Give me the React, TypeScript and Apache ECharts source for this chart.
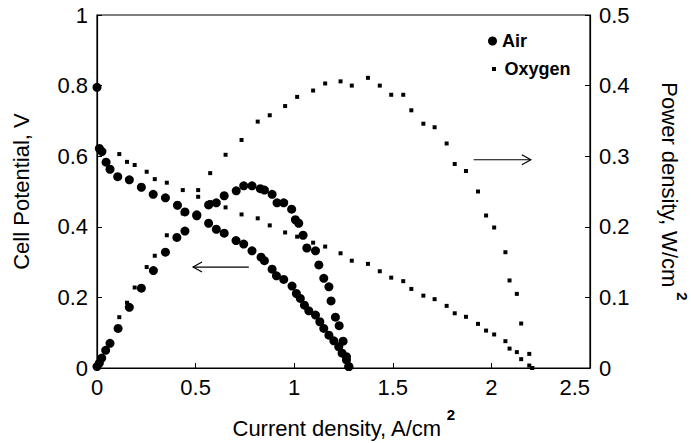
import React, { useEffect, useRef } from "react";
import * as echarts from "echarts";

// Air: cell potential (V) vs current density (A/cm2)
const airCurrentV = [0, 0.012, 0.025, 0.046, 0.066, 0.105, 0.164, 0.225, 0.285, 0.347, 0.408, 0.446, 0.506, 0.566, 0.605, 0.645, 0.705, 0.744, 0.786, 0.832, 0.849, 0.888, 0.91, 0.947, 0.989, 1.011, 1.031, 1.052, 1.074, 1.108, 1.13, 1.15, 1.176, 1.201, 1.226, 1.243, 1.265, 1.277];
const airVoltage = [0.795, 0.622, 0.613, 0.583, 0.563, 0.542, 0.533, 0.512, 0.492, 0.482, 0.461, 0.442, 0.431, 0.41, 0.393, 0.382, 0.361, 0.351, 0.332, 0.314, 0.304, 0.28, 0.261, 0.251, 0.232, 0.211, 0.197, 0.178, 0.162, 0.15, 0.131, 0.112, 0.093, 0.077, 0.06, 0.042, 0.023, 0.004];
// Air: power density (W/cm2)
const airCurrentP = [0, 0.012, 0.024, 0.044, 0.066, 0.107, 0.164, 0.225, 0.286, 0.347, 0.405, 0.446, 0.506, 0.566, 0.605, 0.645, 0.706, 0.744, 0.786, 0.828, 0.849, 0.888, 0.913, 0.947, 0.987, 1.006, 1.023, 1.045, 1.064, 1.108, 1.125, 1.15, 1.176, 1.187, 1.209, 1.228, 1.248, 1.265, 1.277];
const airPower = [0.002, 0.007, 0.014, 0.025, 0.035, 0.056, 0.086, 0.113, 0.138, 0.164, 0.185, 0.194, 0.217, 0.231, 0.234, 0.244, 0.251, 0.258, 0.258, 0.254, 0.252, 0.246, 0.234, 0.234, 0.225, 0.21, 0.205, 0.188, 0.17, 0.166, 0.146, 0.127, 0.115, 0.095, 0.072, 0.06, 0.038, 0.016, 0.002];
// Oxygen
const oxyCurrent = [0, 0.113, 0.152, 0.191, 0.252, 0.293, 0.354, 0.435, 0.513, 0.574, 0.652, 0.733, 0.815, 0.876, 0.954, 1.015, 1.096, 1.157, 1.235, 1.292, 1.374, 1.434, 1.492, 1.553, 1.594, 1.655, 1.712, 1.773, 1.814, 1.871, 1.932, 1.973, 2.014, 2.071, 2.092, 2.129, 2.151, 2.192, 2.207];
const oxyVoltage = [0.8, 0.606, 0.584, 0.575, 0.556, 0.535, 0.525, 0.504, 0.485, 0.47, 0.455, 0.435, 0.424, 0.404, 0.384, 0.372, 0.355, 0.344, 0.325, 0.304, 0.295, 0.274, 0.256, 0.246, 0.224, 0.205, 0.195, 0.176, 0.155, 0.145, 0.125, 0.106, 0.095, 0.076, 0.055, 0.045, 0.025, 0.007, 0];
const oxyPower = [0, 0.072, 0.0925, 0.114, 0.143, 0.159, 0.188, 0.219, 0.252, 0.276, 0.302, 0.323, 0.349, 0.358, 0.371, 0.384, 0.393, 0.403, 0.406, 0.4, 0.411, 0.4, 0.387, 0.387, 0.365, 0.346, 0.341, 0.318, 0.289, 0.279, 0.25, 0.216, 0.199, 0.164, 0.124, 0.105, 0.063, 0.02, 0];

// Annotation arrows (data coordinates): [from, to]
const leftArrow = [[0.77, 0.286], [0.487, 0.286]];
const rightArrow = [[1.91, 0.295], [2.2, 0.295]];

const zip = (xs: number[], ys: number[]) => xs.map((x, i) => [x, ys[i]]);

export default function App() {
  const ref = useRef<HTMLDivElement>(null);
  useEffect(() => {
    document.body.style.margin = "0";
    const chart = echarts.init(ref.current!, null, { renderer: "svg" });
    const font = "'Liberation Sans', Arial, Helvetica, sans-serif";
    const fs = 22;
    const labelStyle = { color: "#000", fontSize: fs, fontFamily: font };
    const tick = { show: true, inside: true, length: 5, lineStyle: { color: "#000", width: 1 } };
    const line = { show: true, lineStyle: { color: "#000", width: 1.2 } };
    const nameStyle = {
      color: "#000",
      fontSize: fs,
      fontFamily: font,
      rich: {
        n: { fontSize: fs, fontFamily: font, color: "#000", lineHeight: 32, verticalAlign: "bottom" },
        s: { fontSize: 15, fontWeight: "bold", fontFamily: font, color: "#000", lineHeight: 15, verticalAlign: "top", padding: [0, 0, 0, 5] },
      },
    };
    const legendText = { color: "#000", fontSize: 18, fontWeight: "bold", fontFamily: font };
    const dot = { color: "#000", opacity: 1 };
    chart.setOption({
      animation: false,
      backgroundColor: "#fff",
      grid: {
        left: 97, right: 101, top: 15, bottom: 75, show: true, borderColor: "#000", borderWidth: 1.2,
        containLabel: false, outerBoundsMode: "none",
      },
      legend: [
        {
          data: [{ name: "Air", icon: "circle" }],
          left: 488, top: 32, padding: 0, itemWidth: 9, itemHeight: 9, selectedMode: false,
          textStyle: legendText,
        },
        {
          data: [{ name: "Oxygen", icon: "path://M0,0H1V1H0Z" }],
          left: 492, top: 60, padding: 0, itemWidth: 11, itemHeight: 4, selectedMode: false,
          textStyle: legendText,
        },
      ],
      xAxis: {
        type: "value", min: 0, max: 2.5, interval: 0.5,
        axisLine: line, axisTick: tick, splitLine: { show: false },
        axisLabel: { ...labelStyle, margin: 8, alignMaxLabel: "right" },
        name: "{n|Current density, A/cm}{s|2}", nameLocation: "middle", nameGap: 39,
        nameTextStyle: nameStyle,
      },
      yAxis: [
        {
          type: "value", min: 0, max: 1, interval: 0.2, position: "left",
          axisLine: line, axisTick: tick, splitLine: { show: false },
          axisLabel: { ...labelStyle, margin: 9 },
          name: "Cell Potential, V", nameLocation: "middle", nameGap: 65, nameRotate: 90,
          nameTextStyle: { color: "#000", fontSize: fs, fontFamily: font },
        },
        {
          type: "value", min: 0, max: 0.5, interval: 0.1, position: "right",
          axisLine: line, axisTick: tick, splitLine: { show: false },
          axisLabel: { ...labelStyle, margin: 9 },
          name: "{n|Power density, W/cm}{s|2}", nameLocation: "middle", nameGap: 68, nameRotate: -90,
          nameTextStyle: nameStyle,
        },
      ],
      series: [
        { name: "Oxygen", type: "scatter", yAxisIndex: 0, symbol: "rect", symbolSize: 4, itemStyle: dot, data: zip(oxyCurrent, oxyVoltage) },
        { name: "Oxygen", type: "scatter", yAxisIndex: 1, symbol: "rect", symbolSize: 4, itemStyle: dot, data: zip(oxyCurrent, oxyPower) },
        { name: "Air", type: "scatter", yAxisIndex: 0, symbol: "circle", symbolSize: 9, itemStyle: dot, data: zip(airCurrentV, airVoltage) },
        { name: "Air", type: "scatter", yAxisIndex: 1, symbol: "circle", symbolSize: 9, itemStyle: dot, data: zip(airCurrentP, airPower) },
      ],
    });

    const makeArrow = (pts: number[][], yi: number) => {
      const a = chart.convertToPixel({ xAxisIndex: 0, yAxisIndex: yi }, pts[0]) as number[];
      const b = chart.convertToPixel({ xAxisIndex: 0, yAxisIndex: yi }, pts[1]) as number[];
      const dir = Math.sign(b[0] - a[0]);
      return [
        { type: "line", silent: true, shape: { x1: a[0], y1: a[1], x2: b[0], y2: b[1] }, style: { stroke: "#000", lineWidth: 1.2 } },
        {
          type: "polyline", silent: true,
          shape: { points: [[b[0] - dir * 9, b[1] - 5], [b[0], b[1]], [b[0] - dir * 9, b[1] + 5]] },
          style: { stroke: "#000", fill: "none", lineWidth: 1.2 },
        },
      ];
    };
    chart.setOption({ graphic: [...makeArrow(leftArrow, 0), ...makeArrow(rightArrow, 1)] });

    return () => chart.dispose();
  }, []);
  return <div ref={ref} style={{ width: 691, height: 443 }} />;
}
